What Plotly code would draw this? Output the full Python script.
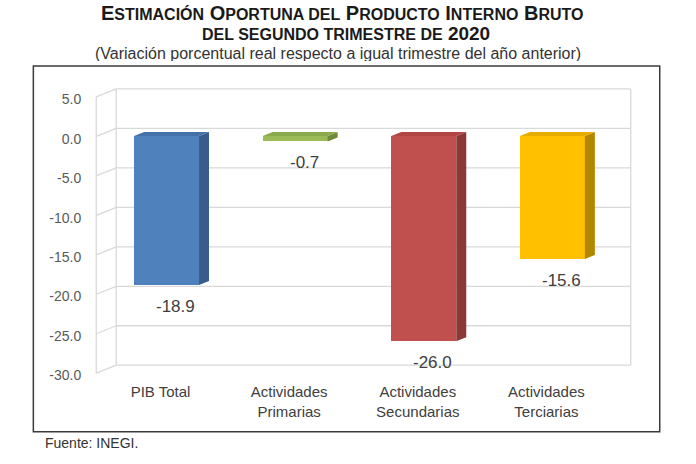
import plotly.graph_objects as go

# ---------------- data ----------------
categories = ["PIB Total", "Actividades<br>Primarias", "Actividades<br>Secundarias", "Actividades<br>Terciarias"]
values = [-18.9, -0.7, -26.0, -15.6]
value_labels = ["-18.9", "-0.7", "-26.0", "-15.6"]
y_ticks = [5.0, 0.0, -5.0, -10.0, -15.0, -20.0, -25.0, -30.0]
y_tick_labels = ["5.0", "0.0", "-5.0", "-10.0", "-15.0", "-20.0", "-25.0", "-30.0"]

front_colors = ["#4F81BD", "#9BBB59", "#C0504D", "#FFC000"]
side_colors = ["#385D8A", "#6F8A3A", "#8C3836", "#B38600"]
top_colors = ["#4472A8", "#8AAA4C", "#B04542", "#E6AC00"]

# ---------------- geometry (pixels / styling) ----------------
W, H = 696, 464
XU, YU = 128.75, 7.9          # px per data unit
XMIN, XMAX = -0.665, 3.51
YMIN, YMAX = -32.0, 5.5
L = 96 - 0.01 * XU
PW = (XMAX - XMIN) * XU
R = W - L - PW
T = 89 - (YMAX - 5.0) * YU
PH = (YMAX - YMIN) * YU
B = H - T - PH

WALL_X = -0.5                  # back wall left edge
WALL_XR = 3.5                  # back wall right edge
WALL_DX = 20 / XU              # side wall depth (x)
WALL_DY = 8 / YU               # side wall depth (y)
LABEL_DY = -1.3                # front plane tick labels offset
BAR_W = 65 / XU
BAR_FX = -14 / XU
BAR_FY = -0.95
BAR_DX = 10 / XU
BAR_DY = 4 / YU

GRID = "#D9D9D9"
FONT = "Liberation Sans, Arial, sans-serif"


def px_x(p):
    return (p - L) / PW


def px_y(p):
    return (H - B - p) / PH


fig = go.Figure()

# back wall & side wall lines
shapes = []
ytop, ybot = max(y_ticks), min(y_ticks)
for t in y_ticks:
    shapes.append(dict(type="line", xref="x", yref="y", x0=WALL_X, x1=WALL_XR, y0=t, y1=t,
                       line=dict(color=GRID, width=1.3), layer="below"))
    shapes.append(dict(type="line", xref="x", yref="y", x0=WALL_X - WALL_DX, x1=WALL_X,
                       y0=t - WALL_DY, y1=t, line=dict(color=GRID, width=1.3), layer="below"))
for xv, dy in [(WALL_X, 0), (WALL_XR, 0), (WALL_X - WALL_DX, WALL_DY)]:
    shapes.append(dict(type="line", xref="x", yref="y", x0=xv, x1=xv, y0=ytop - dy, y1=ybot - dy,
                       line=dict(color=GRID, width=1.3), layer="below"))

# outer frame
shapes.append(dict(type="rect", xref="paper", yref="paper",
                   x0=px_x(33), x1=px_x(660), y0=px_y(432), y1=px_y(66),
                   line=dict(color="#3A3A3A", width=1.5), layer="below"))

# front faces of bars
xs_front = [i + BAR_FX for i in range(len(values))]
fig.add_trace(go.Bar(
    x=xs_front, y=values, base=[BAR_FY] * len(values), width=BAR_W,
    marker=dict(color=front_colors, line=dict(width=0)), showlegend=False,
    hoverinfo="skip"))

# side and top faces
for i, v in enumerate(values):
    xl = i + BAR_FX - BAR_W / 2
    xr = i + BAR_FX + BAR_W / 2
    y0 = BAR_FY
    y1 = v + BAR_FY
    fig.add_trace(go.Scatter(
        x=[xr, xr + BAR_DX, xr + BAR_DX, xr, xr],
        y=[y0, y0 + BAR_DY, y1 + BAR_DY, y1, y0],
        fill="toself", fillcolor=side_colors[i], mode="lines",
        line=dict(width=0, color=side_colors[i]), showlegend=False, hoverinfo="skip"))
    fig.add_trace(go.Scatter(
        x=[xl, xl + BAR_DX, xr + BAR_DX, xr, xl],
        y=[y0, y0 + BAR_DY, y0 + BAR_DY, y0, y0],
        fill="toself", fillcolor=top_colors[i], mode="lines",
        line=dict(width=0, color=top_colors[i]), showlegend=False, hoverinfo="skip"))

annotations = []
for i, v in enumerate(values):
    annotations.append(dict(x=i - 0.04, y=v + BAR_FY, xref="x", yref="y", text=value_labels[i],
                            showarrow=False, yanchor="middle", xanchor="center", yshift=-21,
                            font=dict(family=FONT, size=17, color="#404040")))

BIG, SMALL = 20, 16
line1 = "".join([
    "E", f"<span style='font-size:{SMALL}px'>STIMACIÓN</span> ",
    "O", f"<span style='font-size:{SMALL}px'>PORTUNA DEL</span> ",
    "P", f"<span style='font-size:{SMALL}px'>RODUCTO</span> ",
    "I", f"<span style='font-size:{SMALL}px'>NTERNO</span> ",
    "B", f"<span style='font-size:{SMALL}px'>RUTO</span>",
])
line2 = f"<span style='font-size:{SMALL}px'>DEL SEGUNDO TRIMESTRE DE</span> 2020"
annotations.append(dict(x=px_x(342), y=px_y(12.5), xref="paper", yref="paper", text="<b>" + line1 + "</b>",
                        showarrow=False, xanchor="center", yanchor="middle", height=20,
                        font=dict(family=FONT, size=BIG, color="#1A1A1A")))
annotations.append(dict(x=px_x(346), y=px_y(33.5), xref="paper", yref="paper", text="<b>" + line2 + "</b>",
                        showarrow=False, xanchor="center", yanchor="middle", height=18,
                        font=dict(family=FONT, size=19, color="#1A1A1A")))
annotations.append(dict(x=px_x(338), y=px_y(53), xref="paper", yref="paper",
                        text="(Variación porcentual real respecto a igual trimestre del año anterior)",
                        showarrow=False, xanchor="center", yanchor="middle", height=16,
                        font=dict(family=FONT, size=16, color="#333333")))
annotations.append(dict(x=px_x(43), y=px_y(443), xref="paper", yref="paper", text="Fuente: INEGI.",
                        showarrow=False, xanchor="left", yanchor="middle",
                        font=dict(family=FONT, size=14, color="#333333")))

fig.update_layout(
    width=W, height=H,
    margin=dict(l=L, r=R, t=T, b=B, pad=0),
    paper_bgcolor="white", plot_bgcolor="white",
    shapes=shapes, annotations=annotations,
    bargap=0,
    xaxis=dict(range=[XMIN, XMAX], showgrid=False, zeroline=False, showline=False,
               tickvals=[i - WALL_DX for i in range(len(categories))], ticktext=categories,
               ticks="", tickfont=dict(family=FONT, size=15, color="#404040")),
    yaxis=dict(range=[YMIN, YMAX], showgrid=False, zeroline=False, showline=False,
               tickvals=[t + LABEL_DY for t in y_ticks], ticktext=y_tick_labels,
               ticks="outside", ticklen=10, tickcolor="rgba(0,0,0,0)",
               tickfont=dict(family=FONT, size=14, color="#595959")),
)

fig.write_html("out.html", config={"displayModeBar": False},
               post_script="document.body.style.margin='0';")
